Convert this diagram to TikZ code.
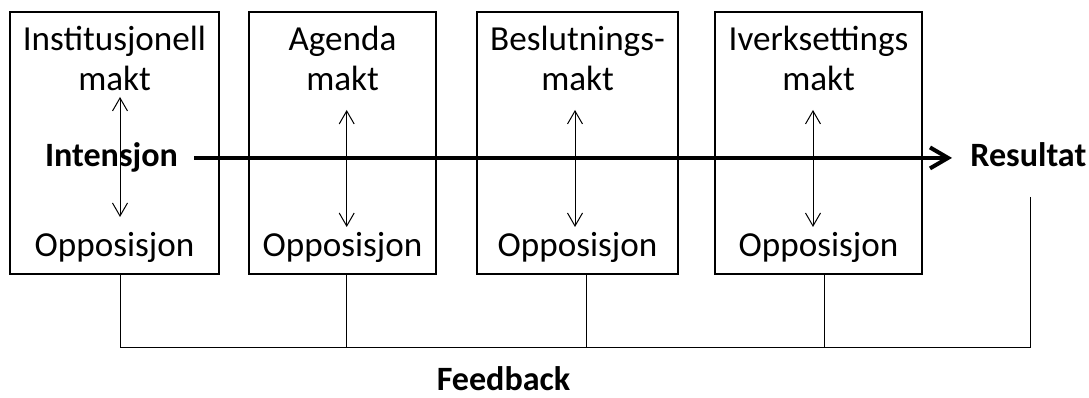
\documentclass[tikz,border=0pt]{standalone}
\usepackage{fontspec}
\setmainfont{Carlito}
\usetikzlibrary{calc, positioning, arrows.meta}

\begin{document}
\begin{tikzpicture}[x=0.02cm, y=-0.02cm,
  every node/.style={font=\fontsize{20}{22.8}\selectfont},
  box/.style={draw, rectangle, line width=0.74pt, minimum height=5.24cm, inner sep=0},
  lbl/.style={align=center, anchor=base, inner sep=0},
  bold/.style={font=\fontsize{19.4}{22.8}\selectfont\bfseries, inner sep=0},
  dbl/.style={{Straight Barb[length=0.26cm, width=0.3cm]}-{Straight Barb[length=0.26cm, width=0.3cm]}, line width=0.57pt},
  main/.style={-{Straight Barb[length=0.36cm, width=0.42cm]}, line width=2.3pt},
  thin/.style={line width=0.57pt}]
  \useasboundingbox (0,0) rectangle (1089,398);

  % Boxes
  \node[box, minimum width=4.18cm] (inst) at (114.5,143) {};
  \node[box, minimum width=3.74cm] (agenda) at (342.5,143) {};
  \node[box, minimum width=4.02cm] (beslut) at (577.5,143) {};
  \node[box, minimum width=4.14cm] (iverk) at (818.5,143) {};

  % Top labels (base = last line)
  \node[lbl] (instT) at (114.5,91) {Institusjonell\\makt};
  \node[lbl] (agendaT) at (342.5,91) {Agenda\\makt};
  \node[lbl] (beslutT) at (577.5,91) {Beslutnings-\\makt};
  \node[lbl] (iverkT) at (818.5,91) {Iverksettings\\makt};

  % Opposition labels
  \node[lbl] (instO) at (114.5,257) {Opposisjon};
  \node[lbl] (agendaO) at (342.5,257) {Opposisjon};
  \node[lbl] (beslutO) at (577.5,257) {Opposisjon};
  \node[lbl] (iverkO) at (818.5,257) {Opposisjon};

  % Intention and result
  \node[bold, anchor=base] (intens) at (111.5,167) {Intensjon};
  \node[bold, anchor=base west] (result) at (970,167) {Resultat};
  \node[bold, anchor=base] (feedback) at (503.5,391) {Feedback};

  % Double arrows
  \coordinate (a1t) at (120,97);
  \coordinate (a1b) at (120,217);
  \coordinate (a2t) at (346.7,110);
  \coordinate (a2b) at (346.7,227);
  \coordinate (a3t) at (575,110);
  \coordinate (a3b) at (575,227);
  \coordinate (a4t) at (813,110);
  \coordinate (a4b) at (813,227);
  \draw[dbl] (a1t) -- (a1b);
  \draw[dbl] (a2t) -- (a2b);
  \draw[dbl] (a3t) -- (a3b);
  \draw[dbl] (a4t) -- (a4b);

  % Main arrow
  \draw[main, shorten <=0.32cm, shorten >=0.36cm] (intens.east) -- (intens.east -| result.west);

  % Feedback lines
  \coordinate (fb1) at (120,348);
  \coordinate (fb2) at (346.7,348);
  \coordinate (fb3) at (586,348);
  \coordinate (fb4) at (824,348);
  \coordinate (fb5) at (1030,348);
  \coordinate (restop) at (1030,197);
  \draw[thin] (inst.south -| fb1) -- (fb1);
  \draw[thin] (agenda.south -| fb2) -- (fb2);
  \draw[thin] (beslut.south -| fb3) -- (fb3);
  \draw[thin] (iverk.south -| fb4) -- (fb4);
  \draw[thin] (restop) -- (fb5) -- (fb1);

\end{tikzpicture}
\end{document}
